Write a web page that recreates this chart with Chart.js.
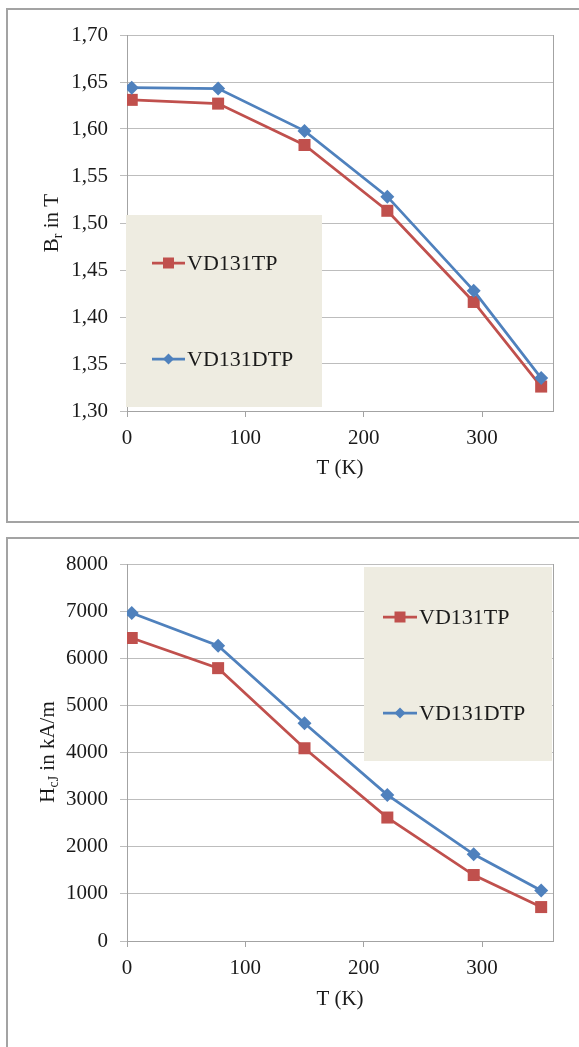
<!DOCTYPE html>
<html>
<head>
<meta charset="utf-8">
<script src="https://cdn.jsdelivr.net/npm/chart.js@4.4.1/dist/chart.umd.min.js"></script>
<style>
    html, body { margin: 0; padding: 0; background: #fff; overflow: hidden; }
    body { width: 579px; height: 1047px; position: relative; }
    .cornice { position: absolute; left: 6px; width: 640px; border: 2px solid #a3a3a3; box-sizing: border-box; }
    .contenitore { position: absolute; left: 0; width: 579px; }
</style>
</head>
<body>
<div class="cornice" style="top:8px;height:515px"></div>
<div class="contenitore" style="top:0;height:522px"><canvas id="graficoBr" width="579" height="522"></canvas></div>
<div class="cornice" style="top:537px;height:600px"></div>
<div class="contenitore" style="top:530px;height:517px"><canvas id="graficoHcj" width="579" height="517"></canvas></div>

<script>
// dati
const temperature = [4, 77, 150, 220, 293, 350];
const nomiSerie = ["VD131TP", "VD131DTP"];
const brTP = [1.631, 1.627, 1.583, 1.513, 1.416, 1.326];
const brDTP = [1.644, 1.643, 1.598, 1.528, 1.428, 1.335];
const hcjTP = [6430, 5790, 4090, 2620, 1400, 720];
const hcjDTP = [6960, 6265, 4620, 3100, 1840, 1070];
const tickX = [0, 100, 200, 300];

const rosso = '#C0504D';
const blu = '#4F81BD';
const grigioGriglia = '#bdbdbd';
const grigioAsse = '#a3a3a3';
const font = 'Liberation Serif, Times New Roman, serif';

// bordo destro dell'area del grafico
const bordoPlugin = {
    id: 'bordoPlugin',
    beforeDatasetsDraw(chart) {
        const a = chart.chartArea;
        const ctx = chart.ctx;
        ctx.save();
        ctx.strokeStyle = grigioAsse;
        ctx.lineWidth = 1;
        ctx.beginPath();
        ctx.moveTo(Math.round(a.right) + 0.5, a.top);
        ctx.lineTo(Math.round(a.right) + 0.5, a.bottom);
        ctx.stroke();
        ctx.restore();
    }
};

// legenda in stile Excel
const legendaPlugin = {
    id: 'legendaPlugin',
    afterDraw(chart) {
        const cfg = chart.options.plugins.legendaBox;
        if (!cfg) return;
        const ctx = chart.ctx;
        ctx.save();
        ctx.fillStyle = '#EEECE1';
        ctx.fillRect(cfg.x1, cfg.y1, cfg.x2 - cfg.x1, cfg.y2 - cfg.y1);
        chart.data.datasets.forEach((ds, i) => {
            const y = cfg.righe[i];
            ctx.strokeStyle = ds.borderColor;
            ctx.fillStyle = ds.borderColor;
            ctx.lineWidth = 2.75;
            ctx.beginPath();
            ctx.moveTo(cfg.linea[0], y);
            ctx.lineTo(cfg.linea[1], y);
            ctx.stroke();
            const cx = (cfg.linea[0] + cfg.linea[1]) / 2;
            if (ds.pointStyle === 'rect') {
                ctx.fillRect(cx - 5.5, y - 5.5, 11, 11);
            } else {
                ctx.beginPath();
                ctx.moveTo(cx - 5.5, y);
                ctx.lineTo(cx, y - 5.5);
                ctx.lineTo(cx + 5.5, y);
                ctx.lineTo(cx, y + 5.5);
                ctx.closePath();
                ctx.fill();
            }
            ctx.fillStyle = '#1a1a1a';
            ctx.font = '22px ' + font;
            ctx.textBaseline = 'middle';
            ctx.textAlign = 'left';
            ctx.fillText(ds.label, cfg.linea[1] + 2, y + 1);
        });
        ctx.restore();
    }
};

// titolo asse y con pedice
const titoloYPlugin = {
    id: 'titoloYPlugin',
    afterDraw(chart) {
        const cfg = chart.options.plugins.titoloY;
        if (!cfg) return;
        const ctx = chart.ctx;
        ctx.save();
        ctx.translate(cfg.x, cfg.y);
        ctx.rotate(-Math.PI / 2);
        ctx.fillStyle = '#1a1a1a';
        ctx.textBaseline = 'middle';
        ctx.textAlign = 'left';
        let totale = 0;
        cfg.parti.forEach(p => {
            ctx.font = (p.pedice ? '14px ' : '21px ') + font;
            totale += ctx.measureText(p.testo).width;
        });
        let x = -totale / 2;
        cfg.parti.forEach(p => {
            ctx.font = (p.pedice ? '14px ' : '21px ') + font;
            ctx.fillText(p.testo, x, p.pedice ? 6 : 0);
            x += ctx.measureText(p.testo).width;
        });
        ctx.restore();
    }
};

function creaGrafico(id, cfg) {
    const ctx = document.getElementById(id).getContext('2d');
    return new Chart(ctx, {
        type: 'line',
        data: {
            datasets: [
                {
                    label: nomiSerie[0],
                    data: temperature.map((t, i) => ({ x: t, y: cfg.tp[i] })),
                    borderColor: rosso,
                    backgroundColor: rosso,
                    borderWidth: 2.75,
                    pointStyle: 'rect',
                    pointRadius: 8.5,
                    pointBorderWidth: 0,
                    tension: 0,
                    order: 1
                },
                {
                    label: nomiSerie[1],
                    data: temperature.map((t, i) => ({ x: t, y: cfg.dtp[i] })),
                    borderColor: blu,
                    backgroundColor: blu,
                    borderWidth: 2.75,
                    pointStyle: 'rectRot',
                    pointRadius: 7,
                    pointBorderWidth: 0,
                    tension: 0,
                    order: 0
                }
            ]
        },
        options: {
            responsive: false,
            animation: false,
            layout: { padding: { top: cfg.alto, right: 26, bottom: cfg.basso, left: 0 } },
            scales: {
                x: {
                    type: 'linear',
                    min: 0,
                    max: 360,
                    afterBuildTicks: s => { s.ticks = tickX.map(v => ({ value: v })); },
                    afterFit: s => { s.height = cfg.altezzaX; },
                    ticks: { color: '#1a1a1a', font: { family: font, size: 21 }, padding: 9, maxRotation: 0 },
                    grid: { drawOnChartArea: false, drawTicks: true, tickLength: 6, color: grigioAsse },
                    border: { color: grigioAsse },
                    title: { display: true, text: 'T (K)', color: '#1a1a1a', font: { family: font, size: 21 }, padding: 0 }
                },
                y: {
                    min: cfg.yMin,
                    max: cfg.yMax,
                    afterFit: s => { s.width = 127; },
                    ticks: {
                        stepSize: cfg.passo,
                        color: '#1a1a1a',
                        font: { family: font, size: 21 },
                        padding: 12,
                        callback: cfg.formato
                    },
                    grid: { color: grigioGriglia, tickLength: 7 },
                    border: { color: grigioAsse }
                }
            },
            plugins: {
                legend: { display: false },
                tooltip: { enabled: false },
                legendaBox: cfg.legenda,
                titoloY: cfg.titoloY
            }
        },
        plugins: [bordoPlugin, legendaPlugin, titoloYPlugin]
    });
}

creaGrafico('graficoBr', {
    tp: brTP,
    dtp: brDTP,
    yMin: 1.3,
    yMax: 1.7,
    passo: 0.05,
    formato: v => v.toFixed(2).replace('.', ','),
    alto: 35,
    altezzaX: 70,
    basso: 41,
    legenda: { x1: 126, y1: 215, x2: 322, y2: 407, linea: [152, 185], righe: [263, 359] },
    titoloY: { x: 52, y: 223, parti: [{ testo: 'B' }, { testo: 'r', pedice: true }, { testo: ' in T' }] }
});

creaGrafico('graficoHcj', {
    tp: hcjTP,
    dtp: hcjDTP,
    yMin: 0,
    yMax: 8000,
    passo: 1000,
    formato: v => String(v),
    alto: 34,
    altezzaX: 71,
    basso: 35,
    legenda: { x1: 364, y1: 37, x2: 552, y2: 231, linea: [383, 417], righe: [87, 183] },
    titoloY: { x: 48, y: 222, parti: [{ testo: 'H' }, { testo: 'cJ', pedice: true }, { testo: ' in kA/m' }] }
});
</script>
</body>
</html>
